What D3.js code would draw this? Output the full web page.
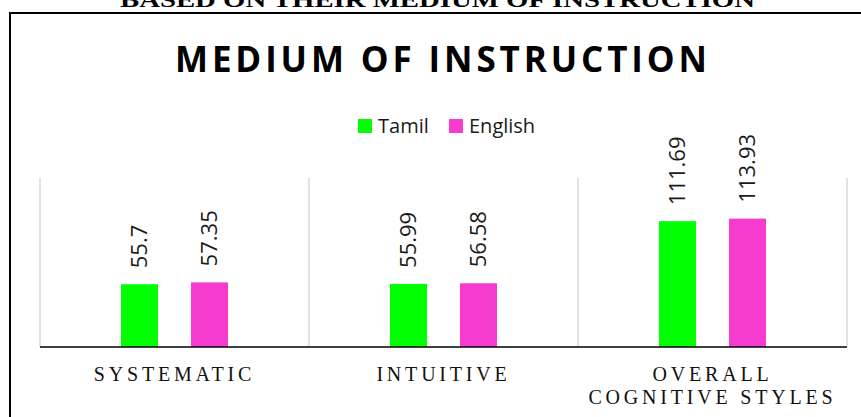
<!DOCTYPE html>
<html>
<head>
<meta charset="utf-8">
<script src="https://cdn.jsdelivr.net/npm/d3@7"></script>
<style>
  body { margin: 0; background: #fff; }
</style>
</head>
<body>
<div id="chart"></div>
<script>
// data
var categories = ["SYSTEMATIC", "INTUITIVE", "OVERALL COGNITIVE STYLES"];
var categoryLines = [["SYSTEMATIC"], ["INTUITIVE"], ["OVERALL", "COGNITIVE STYLES"]];
var seriesNames = ["Tamil", "English"];
var tamilValues = [55.7, 55.99, 111.69];
var englishValues = [57.35, 56.58, 113.93];
var seriesColors = ["#00ff00", "#f73bcf"];

var width = 861, height = 417;

var svg = d3.select("#chart")
  .append("svg")
    .attr("width", width)
    .attr("height", height);

// heading of the page, cut at the top
svg.append("text")
  .attr("x", 120)
  .attr("y", 7)
  .attr("textLength", 635)
  .attr("lengthAdjust", "spacingAndGlyphs")
  .style("font-family", "'Liberation Serif', 'Times New Roman', serif")
  .style("font-weight", "bold")
  .style("font-size", "22px")
  .text("BASED ON THEIR MEDIUM OF INSTRUCTION");

// chart frame (top and left edges visible)
svg.append("path")
  .attr("d", "M10," + height + "V13H" + width)
  .attr("fill", "none")
  .attr("stroke", "#000")
  .attr("stroke-width", 2);

// title
svg.append("text")
  .attr("x", 175)
  .attr("y", 72)
  .attr("textLength", 532)
  .attr("lengthAdjust", "spacing")
  .style("font-family", "'Open Sans', sans-serif")
  .style("font-weight", "bold")
  .style("font-size", "35px")
  .text("MEDIUM OF INSTRUCTION");

// scales
var x = d3.scaleBand()
  .domain(categories)
  .range([40, 847])
  .padding(0);

var xSub = d3.scaleBand()
  .domain(seriesNames)
  .range([0, x.bandwidth()])
  .paddingInner(0.471)
  .paddingOuter(1.157);

var y = d3.scaleLinear()
  .domain([0, 150])
  .range([347, 178]);

// vertical gridlines at category boundaries
var bounds = categories.map(c => x(c)).concat([x(categories[categories.length - 1]) + x.bandwidth()]);
svg.append("g")
  .selectAll("line")
  .data(bounds)
  .join("line")
    .attr("x1", d => d)
    .attr("x2", d => d)
    .attr("y1", y(150))
    .attr("y2", y(0))
    .attr("stroke", "#d9d9d9")
    .attr("stroke-width", 1.5);

// bars
var rows = categories.map((c, i) => ({
  cat: c,
  values: [
    {series: "Tamil", value: tamilValues[i], color: seriesColors[0]},
    {series: "English", value: englishValues[i], color: seriesColors[1]}
  ]
}));

var groups = svg.append("g")
  .selectAll("g")
  .data(rows)
  .join("g")
    .attr("transform", d => "translate(" + x(d.cat) + ",0)");

groups.selectAll("rect")
  .data(d => d.values)
  .join("rect")
    .attr("x", d => xSub(d.series))
    .attr("y", d => y(d.value))
    .attr("width", xSub.bandwidth())
    .attr("height", d => y(0) - y(d.value))
    .attr("fill", d => d.color);

// rotated value labels
groups.selectAll("text")
  .data(d => d.values)
  .join("text")
    .attr("transform", d => "translate(" + (xSub(d.series) + xSub.bandwidth() / 2) + "," + (y(d.value) - 16) + ") rotate(-90)")
    .attr("dy", "0.35em")
    .style("font-family", "'Open Sans', sans-serif")
    .style("font-size", "22px")
    .style("fill", "#1a1a1a")
    .text(d => d.value);

// x axis line
svg.append("line")
  .attr("x1", 40)
  .attr("x2", 847)
  .attr("y1", y(0))
  .attr("y2", y(0))
  .attr("stroke", "#000")
  .attr("stroke-width", 1.5);

// category labels
var catLabels = svg.append("g")
  .selectAll("text")
  .data(categories)
  .join("text")
    .attr("x", d => x(d) + x.bandwidth() / 2 - 2)
    .attr("y", 381)
    .attr("text-anchor", "middle")
    .style("font-family", "'Liberation Serif', 'Times New Roman', serif")
    .style("font-size", "20px")
    .style("letter-spacing", "3.8px")
    .style("fill", "#111");

catLabels.selectAll("tspan")
  .data((d, i) => categoryLines[i].map(t => ({t: t, cx: x(d) + x.bandwidth() / 2})))
  .join("tspan")
    .attr("x", d => d.cx)
    .attr("dy", (d, i) => i === 0 ? 0 : 23)
    .text(d => d.t);

// legend
var legendX = [358, 449];
var legend = svg.append("g")
  .selectAll("g")
  .data(seriesNames)
  .join("g")
    .attr("transform", (d, i) => "translate(" + legendX[i] + ",119)");

legend.append("rect")
  .attr("width", 14)
  .attr("height", 14)
  .attr("fill", (d, i) => seriesColors[i]);

legend.append("text")
  .attr("x", 20)
  .attr("y", 14)
  .style("font-family", "'Open Sans', sans-serif")
  .style("font-size", "20px")
  .style("fill", "#1a1a1a")
  .text(d => d);
</script>
</body>
</html>
